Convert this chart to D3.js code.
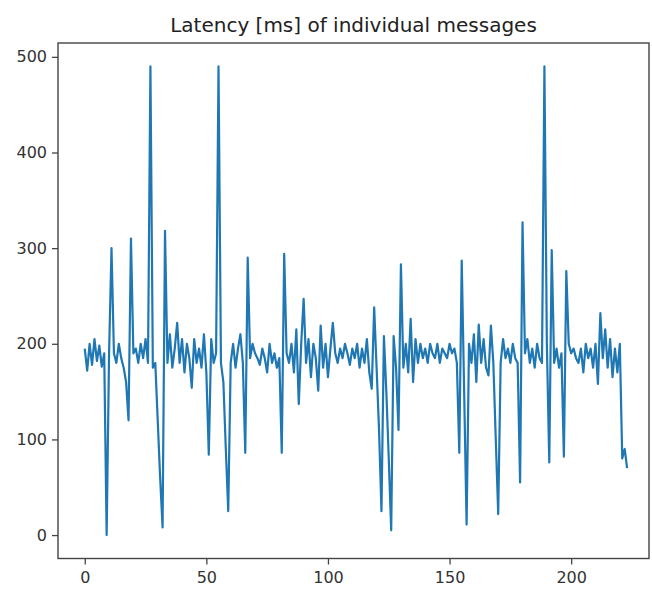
<!DOCTYPE html>
<html>
<head>
<meta charset="utf-8">
<script src="https://cdn.jsdelivr.net/npm/d3@7"></script>
<style>
  body { margin: 0; background: #fff; }
  #chart { width: 652px; height: 592px; }
  text { font-family: 'DejaVu Sans', sans-serif; }
</style>
</head>
<body>
<div id="chart"></div>
<script>
// latency per message, index = message number
const latency = [
    195, 172, 200, 178, 205, 182, 198, 176, 190, 0,
    190, 300, 190, 180, 200, 185, 175, 160, 120, 310,
    190, 195, 180, 200, 185, 205, 180, 490, 175, 180,
    120, 60, 8, 318, 180, 210, 175, 195, 222, 180,
    205, 170, 200, 185, 154, 205, 180, 195, 175, 210,
    170, 84, 205, 180, 190, 490, 180, 160, 90, 25,
    180, 200, 175, 195, 210, 180, 86, 290, 185, 200,
    190, 185, 178, 195, 185, 170, 200, 180, 190, 175,
    185, 86, 294, 190, 180, 200, 170, 215, 137, 200,
    247, 180, 205, 165, 200, 185, 151, 219, 175, 200,
    165, 195, 222, 190, 180, 195, 185, 200, 190, 178,
    195, 185, 200, 175, 195, 180, 205, 170, 153, 238,
    175, 110, 25, 208, 150, 80, 5, 208, 175, 110,
    283, 175, 200, 170, 226, 160, 205, 180, 200, 185,
    195, 180, 200, 190, 185, 200, 180, 195, 190, 185,
    200, 190, 195, 180, 86, 287, 150, 11, 200, 180,
    210, 160, 220, 180, 205, 175, 167, 219, 180, 100,
    22, 180, 205, 185, 195, 180, 200, 185, 180, 55,
    327, 190, 205, 180, 195, 175, 200, 185, 180, 490,
    200, 76, 298, 180, 195, 175, 190, 82, 276, 200,
    190, 195, 185, 180, 195, 170, 200, 185, 195, 175,
    200, 158, 232, 185, 215, 175, 205, 165, 195, 170,
    200, 80, 90, 70
];
const xTicks = [0, 50, 100, 150, 200];
const yTicks = [0, 100, 200, 300, 400, 500];
const chartTitle = 'Latency [ms] of individual messages';

const W = 652, H = 592;
const margin = { top: 43, right: 3, bottom: 33.5, left: 58 };
const width = W - margin.left - margin.right;
const height = H - margin.top - margin.bottom;

const xScale = d3.scaleLinear().domain([-11, 232]).range([0, width]);
const yScale = d3.scaleLinear().domain([-24.5, 514.5]).range([height, 0]);

const svg = d3.select('#chart').append('svg')
    .attr('width', W).attr('height', H)
    .append('g')
    .attr('transform', 'translate(' + margin.left + ',' + margin.top + ')');

const line = d3.line()
    .x(function (d, i) { return xScale(i); })
    .y(function (d) { return yScale(d); });

svg.append('path').datum(latency)
    .attr('d', line)
    .attr('fill', 'none')
    .attr('stroke', '#1f77b4')
    .attr('stroke-width', 2.2)
    .attr('stroke-linejoin', 'round');

const xAxis = d3.axisBottom(xScale).tickValues(xTicks).tickSize(6).tickPadding(7).tickSizeOuter(0);
const yAxis = d3.axisLeft(yScale).tickValues(yTicks).tickSize(6).tickPadding(5).tickSizeOuter(0);

svg.append('g').attr('class', 'xaxis').attr('transform', 'translate(0,' + height + ')').call(xAxis);
svg.append('g').attr('class', 'yaxis').call(yAxis);

svg.selectAll('.xaxis .domain, .yaxis .domain').remove();
svg.selectAll('.tick line').attr('stroke', '#444').attr('stroke-width', 1.3);
svg.selectAll('.tick text').style('font-size', '16px').attr('fill', '#333');

// frame
svg.append('rect')
    .attr('x', 0).attr('y', 0)
    .attr('width', width).attr('height', height)
    .attr('fill', 'none')
    .attr('stroke', '#444')
    .attr('stroke-width', 1.4);

svg.append('text')
    .attr('x', width / 2).attr('y', -11)
    .attr('text-anchor', 'middle')
    .style('font-size', '20px')
    .attr('fill', '#222')
    .text(chartTitle);
</script>
</body>
</html>
